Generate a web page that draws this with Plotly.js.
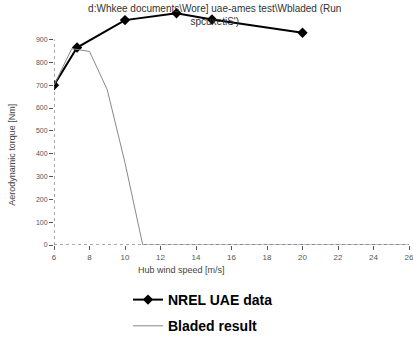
<!DOCTYPE html>
<html><head><meta charset="utf-8">
<script src="https://cdn.plot.ly/plotly-3.0.1.min.js"></script>
<style>html,body{margin:0;padding:0;background:#fff}#c{width:413px;height:339px}</style>
</head><body><div id="c"></div>
<script>
var nrelSpeed = [6, 7.3, 10, 12.9, 14.9, 20];
var nrelTorque = [700, 865, 985, 1015, 988, 930];
var bladedSpeed = [6, 7, 8, 9, 10, 11, 12, 14, 16, 18, 20, 22, 24, 26];
var bladedTorque = [700, 860, 848, 680, 360, 0, 0, 0, 0, 0, 0, 0, 0, 0];
var xTicks = [6, 8, 10, 12, 14, 16, 18, 20, 22, 24, 26];
var yTicks = [0, 100, 200, 300, 400, 500, 600, 700, 800, 900];
var titleText = "d:Whkee documents\\Wore] uae-ames test\\Wbladed (Run<br>spcuxetiS')";

var traces = [
  {x: nrelSpeed, y: nrelTorque, name: 'NREL UAE data', mode: 'lines+markers', legendgroup: 'a',
   line: {color: '#000', width: 2}, marker: {symbol: 'diamond', size: 8, color: '#000'}},
  {x: bladedSpeed, y: bladedTorque, name: 'Bladed result', mode: 'lines', legendgroup: 'b',
   line: {color: '#888', width: 1}}
];
var layout = {
  width: 413, height: 339,
  margin: {l: 54, r: 4, t: 3, b: 93.5, autoexpand: false},
  paper_bgcolor: '#fff', plot_bgcolor: '#fff',
  font: {family: 'Liberation Sans, Arial, sans-serif', color: '#444', size: 8},
  title: {text: titleText, x: 0.52, xanchor: 'center', y: 0.965, yanchor: 'middle', yref: 'container',
          automargin: false, font: {size: 10, color: '#333'}},
  xaxis: {range: [6, 26], tickvals: xTicks, ticks: 'outside', ticklen: 4, tickcolor: '#555',
          ticklabeloverflow: 'allow', automargin: false,
          showgrid: false, zeroline: false, showline: false, tickfont: {size: 8, color: '#555'}},
  yaxis: {range: [0, 1060], tickvals: yTicks, ticks: 'outside', ticklen: 4, tickcolor: '#555',
          automargin: false,
          showgrid: false, zeroline: false, showline: false, tickfont: {size: 7, color: '#555'}},
  shapes: [
    {type: 'line', xref: 'x', yref: 'y', x0: 6, x1: 26, y0: 0, y1: 0, line: {color: '#555', width: 1, dash: 'dot'}},
    {type: 'line', xref: 'x', yref: 'y', x0: 6, x1: 6, y0: 0, y1: 900, line: {color: '#555', width: 1, dash: 'dot'}}
  ],
  annotations: [
    {text: 'Hub wind speed [m/s]', xref: 'paper', yref: 'paper', x: (181 - 54) / 355, y: -0.105,
     xanchor: 'center', yanchor: 'middle', showarrow: false, font: {size: 9, color: '#444'}},
    {text: 'Aerodynamic torque [Nm]', xref: 'paper', yref: 'paper', x: (12 - 54) / 355, y: (245.5 - 155) / 242.5,
     xanchor: 'center', yanchor: 'middle', textangle: -90, showarrow: false, font: {size: 9, color: '#444'}}
  ],
  showlegend: true,
  legend: {xref: 'container', yref: 'container', x: 128 / 413, xanchor: 'left', y: 1 - 284 / 339, yanchor: 'top',
           orientation: 'v', traceorder: 'grouped', tracegroupgap: 5,
           font: {size: 14, color: '#000', family: 'Liberation Sans, Arial, sans-serif', weight: 'bold'},
           bgcolor: 'rgba(0,0,0,0)'}
};
Plotly.newPlot('c', traces, layout, {displayModeBar: false, staticPlot: true});
</script></body></html>
